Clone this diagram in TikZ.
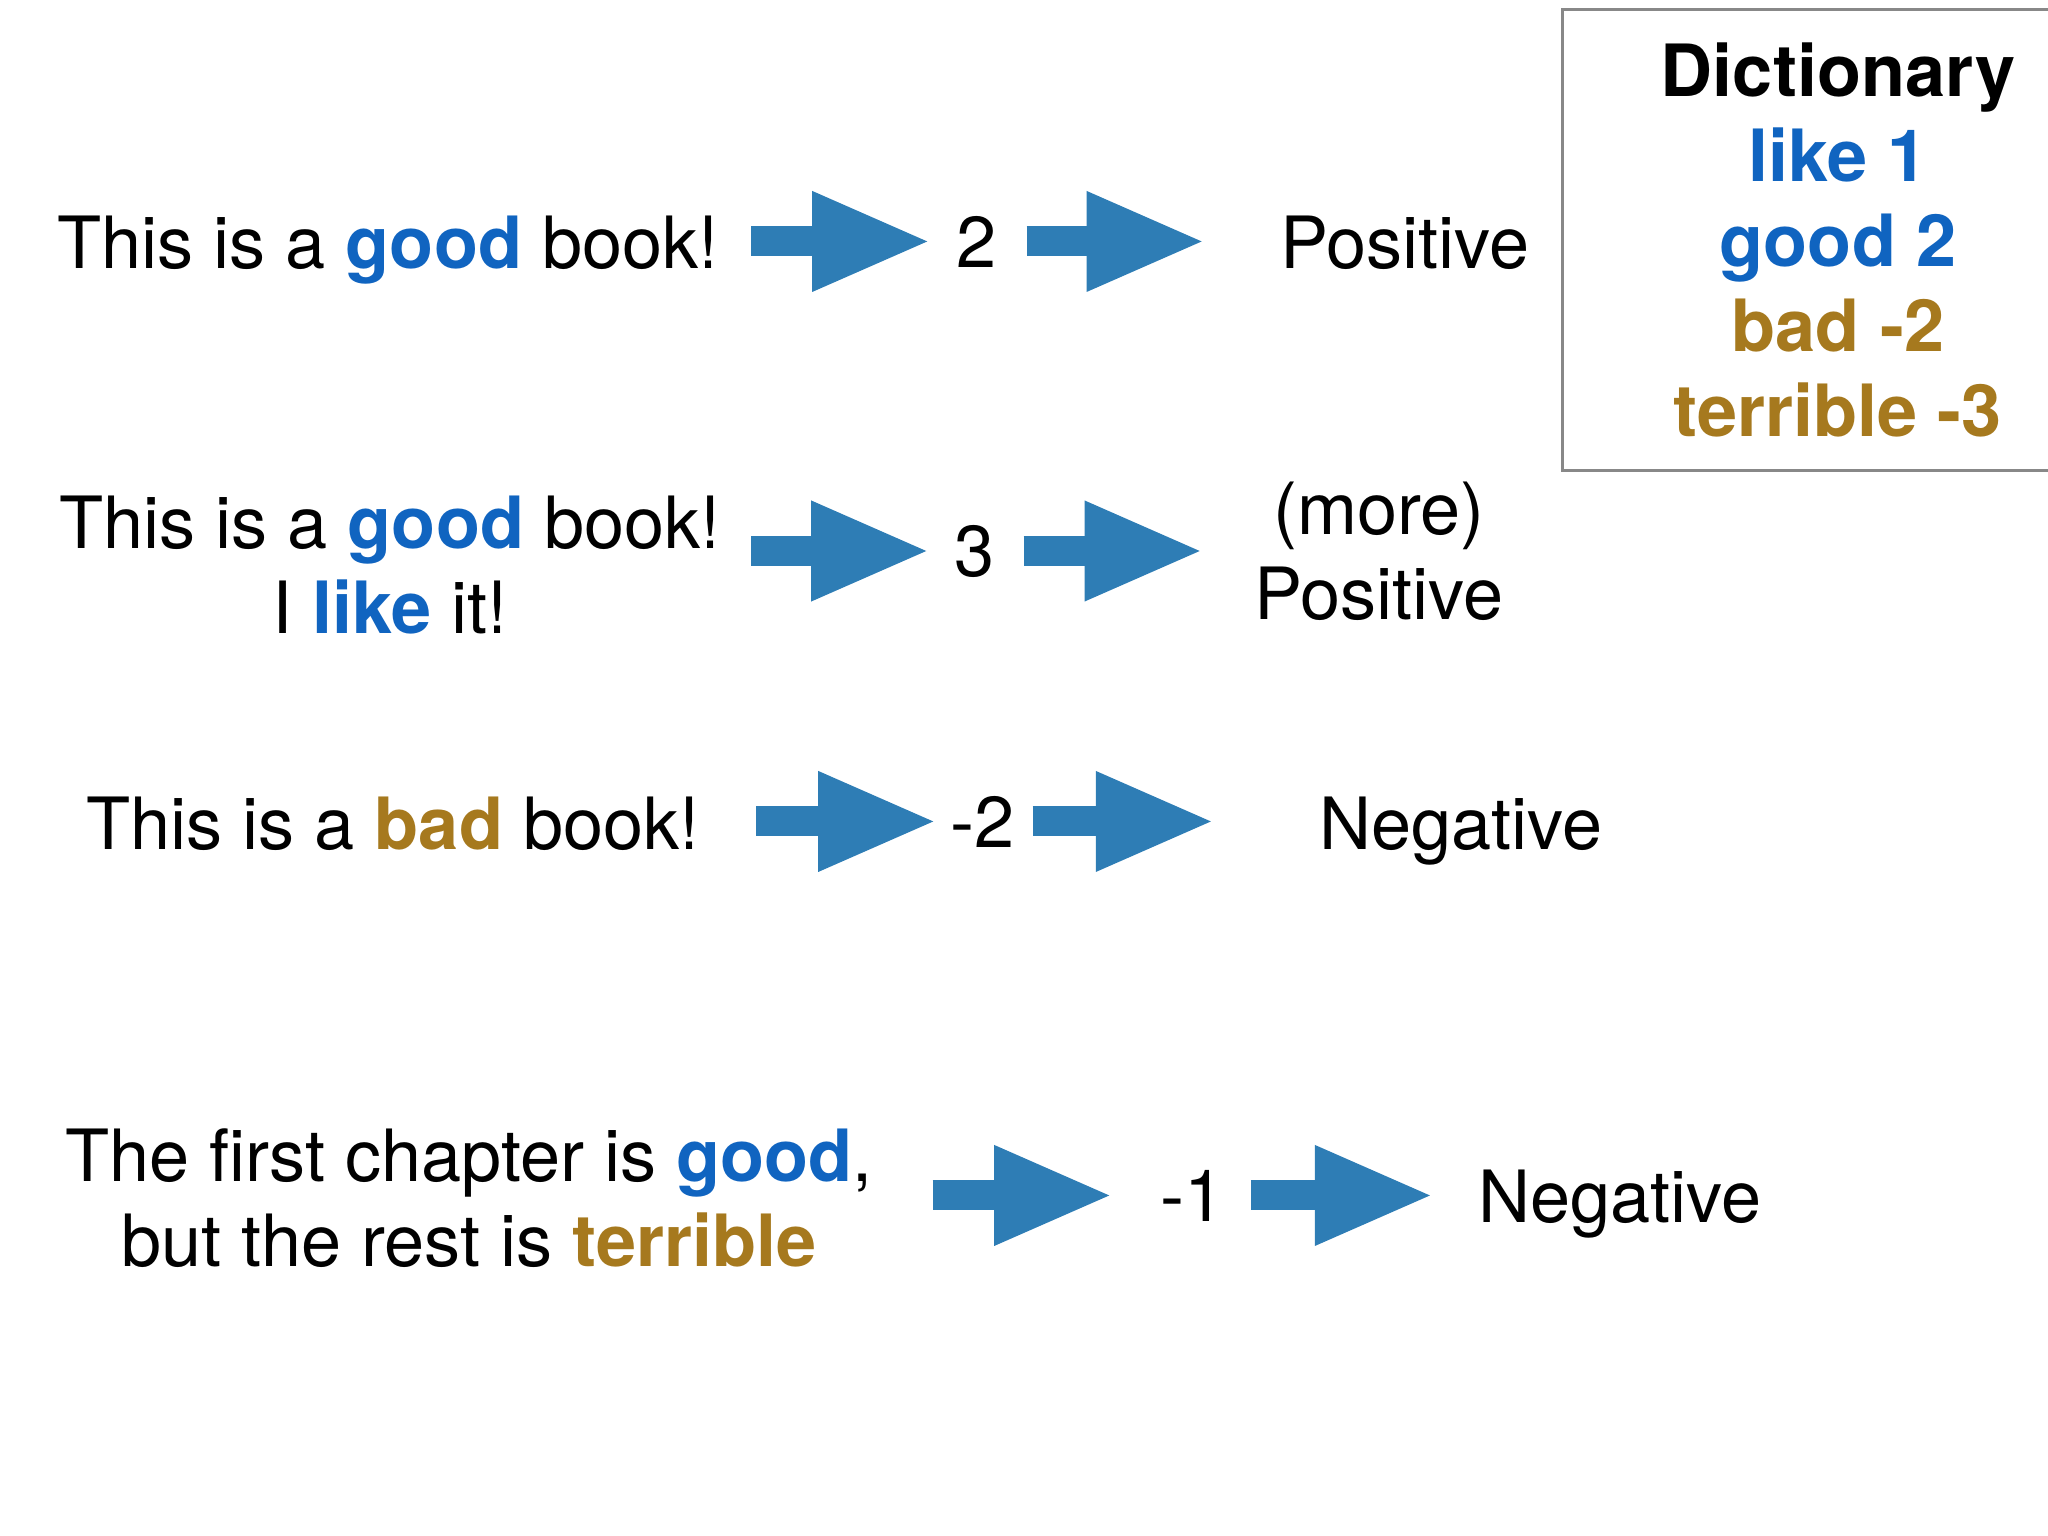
\documentclass[tikz,border=0pt]{standalone}
\usepackage{fontspec}
\setmainfont{TeX Gyre Heros}
\usetikzlibrary{arrows.meta}
\definecolor{goodblue}{RGB}{16,100,192}
\definecolor{badgold}{RGB}{166,121,30}
\definecolor{arrowblue}{RGB}{46,125,181}
\definecolor{boxgray}{RGB}{136,136,136}
\newcommand{\goodw}[1]{\textcolor{goodblue}{\bfseries #1}}
\newcommand{\badw}[1]{\textcolor{badgold}{\bfseries #1}}
\begin{document}
\begin{tikzpicture}[
  x=0.01cm, y=-0.01cm,
  font=\fontsize{20.5}{24.2}\selectfont,
  every node/.style={inner sep=0pt},
  blockarrow/.style={draw=arrowblue, line width=0.3cm,
    -{Triangle[length=1.15cm 0 0, width=1.01cm 0 0, line width=0pt]}}
]
\useasboundingbox (0,0) rectangle (2048,1536);

% Row 1
\node[anchor=base] (s1) at (388,268) {This is a \goodw{good} book!};
\node[anchor=base, minimum width=0.98cm] (v1) at (977,267) {2};
\node[anchor=base] (r1) at (1405,268) {Positive};

% Row 2
\node[align=center] (s2) at (390,565) {This is a \goodw{good} book!\\ I \goodw{like} it!};
\node[anchor=base, minimum width=0.96cm] (v2) at (975,576) {3};
\node[align=center] (r2) at (1379,551) {(more)\\ Positive};

% Row 3
\node[anchor=base] (s3) at (393,849) {This is a \badw{bad} book!};
\node[anchor=base, minimum width=0.98cm] (v3) at (983,847) {-2};
\node[anchor=base] (r3) at (1461,849) {Negative};

% Row 4
\node[align=center] (s4) at (469,1198) {The first chapter is \goodw{good},\\ but the rest is \badw{terrible}};
\node[anchor=base, minimum width=1.40cm] (v4) at (1180,1221) {\hspace*{0.26cm}-1};
\node[anchor=base] (r4) at (1620,1222) {Negative};

% Dictionary
\node[draw=boxgray, line width=0.03cm, align=center,
  font=\fontsize{20.5}{24.2}\selectfont\bfseries,
  minimum width=5.5cm, minimum height=4.61cm] (dict) at (1838,240)
  {Dictionary\\ \textcolor{goodblue}{like 1}\\ \textcolor{goodblue}{good 2}\\
   \textcolor{badgold}{bad -2}\\ \textcolor{badgold}{terrible -3}};

% Arrows
\draw[blockarrow, shorten <=0.32cm] (s1.east |- v1) -- (v1.west);
\draw[blockarrow, shorten >=0.78cm] (v1.east) -- (r1.west |- v1);
\draw[blockarrow, shorten <=0.30cm] (s2.east |- v2) -- (v2.west);
\draw[blockarrow, shorten >=0.54cm] (v2.east) -- (r2.west |- v2);
\draw[blockarrow, shorten <=0.56cm] (s3.east |- v3) -- (v3.west);
\draw[blockarrow, shorten >=1.08cm] (v3.east) -- (r3.west |- v3);
\draw[blockarrow, shorten <=0.59cm] (s4.east |- v4) -- (v4.west);
\draw[blockarrow, shorten >=0.48cm] (v4.east) -- (r4.west |- v4);
\end{tikzpicture}
\end{document}
